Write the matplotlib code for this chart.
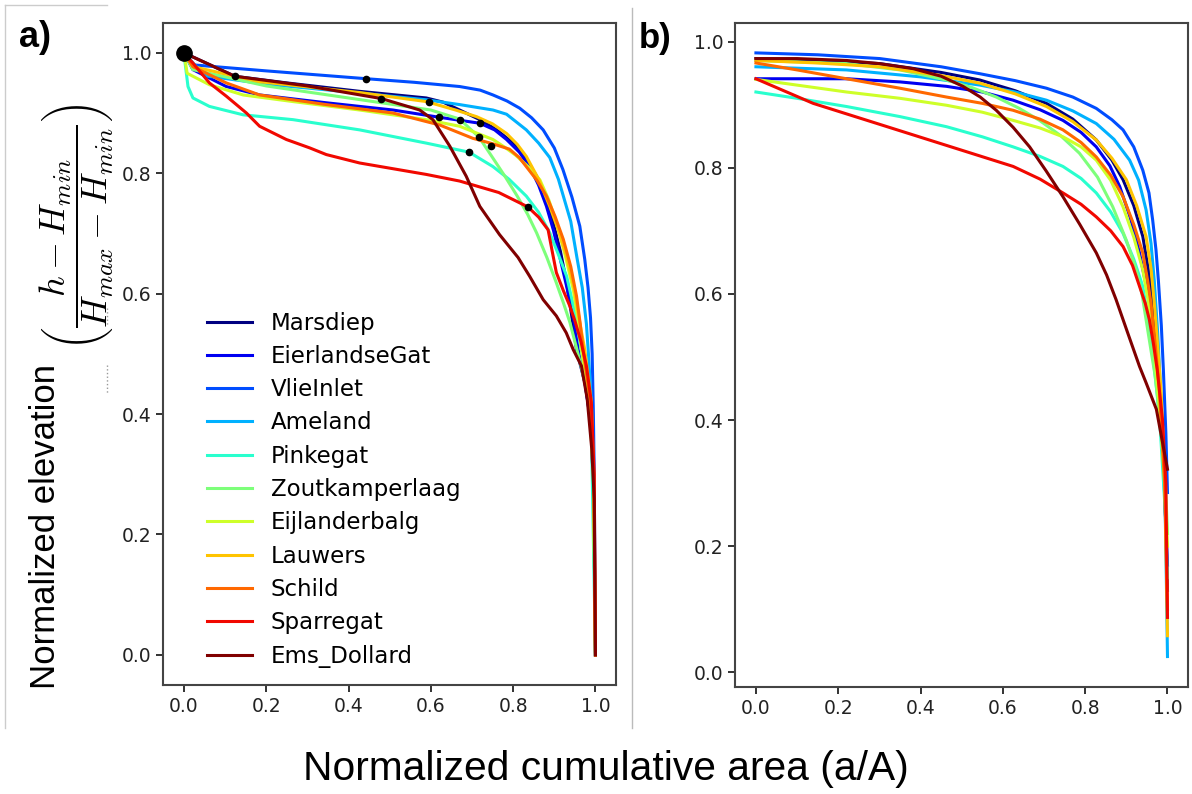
import matplotlib.pyplot as plt
import numpy as np
from matplotlib.lines import Line2D

plt.rcParams['mathtext.fontset'] = 'cm'

names = ['Marsdiep', 'EierlandseGat', 'VlieInlet', 'Ameland', 'Pinkegat',
         'Zoutkamperlaag', 'Eijlanderbalg', 'Lauwers', 'Schild', 'Sparregat',
         'Ems_Dollard']
colors = plt.cm.jet(np.linspace(0, 1, len(names)))

# panel a: measured hypsometric curves
marsdiep_a_x = [0, 0.124, 0.25, 0.427, 0.589, 0.63, 0.670, 0.719, 0.76, 0.800, 0.83, 0.857, 0.878, 0.897, 0.915, 0.930, 0.943, 0.954, 0.975, 0.99, 0.996, 1.0]
marsdiep_a_y = [1.0, 0.961, 0.950, 0.936, 0.925, 0.918, 0.905, 0.889, 0.872, 0.850, 0.825, 0.795, 0.76, 0.718, 0.67, 0.618, 0.56, 0.507, 0.45, 0.38, 0.25, 0.0]
eierland_a_x = [0, 0.022, 0.103, 0.184, 0.346, 0.508, 0.620, 0.719, 0.755, 0.784, 0.815, 0.840, 0.862, 0.881, 0.898, 0.913, 0.93, 0.946, 0.958, 0.975, 0.99, 0.996, 1.0]
eierland_a_y = [1.0, 0.972, 0.944, 0.930, 0.917, 0.905, 0.893, 0.883, 0.872, 0.856, 0.835, 0.811, 0.78, 0.745, 0.705, 0.662, 0.612, 0.563, 0.507, 0.45, 0.38, 0.25, 0.0]
vlie_a_x = [0, 0.022, 0.2, 0.443, 0.56, 0.670, 0.72, 0.751, 0.785, 0.816, 0.845, 0.873, 0.9, 0.921, 0.943, 0.962, 0.974, 0.982, 0.988, 0.992, 0.995, 0.997, 1.0]
vlie_a_y = [1.0, 0.980, 0.970, 0.957, 0.951, 0.944, 0.938, 0.930, 0.92, 0.908, 0.892, 0.872, 0.842, 0.806, 0.76, 0.712, 0.657, 0.61, 0.56, 0.5, 0.4, 0.3, 0.0]
ameland_a_x = [0, 0.05, 0.2, 0.4, 0.589, 0.670, 0.751, 0.784, 0.832, 0.862, 0.889, 0.91, 0.925, 0.94, 0.955, 0.968, 0.978, 0.983, 0.99, 0.995, 1.0]
ameland_a_y = [1.0, 0.962, 0.948, 0.935, 0.922, 0.914, 0.905, 0.898, 0.872, 0.85, 0.826, 0.79, 0.755, 0.72, 0.66, 0.61, 0.55, 0.5, 0.42, 0.3, 0.0]
pinke_a_x = [0, 0.004, 0.010, 0.022, 0.062, 0.144, 0.265, 0.427, 0.589, 0.693, 0.751, 0.79, 0.832, 0.862, 0.889, 0.91, 0.930, 0.943, 0.954, 0.975, 0.99, 1.0]
pinke_a_y = [1.0, 0.977, 0.944, 0.925, 0.911, 0.897, 0.889, 0.872, 0.850, 0.835, 0.811, 0.79, 0.762, 0.735, 0.701, 0.665, 0.629, 0.59, 0.552, 0.47, 0.38, 0.0]
zout_a_x = [0, 0.022, 0.2, 0.4, 0.6, 0.67, 0.717, 0.751, 0.78, 0.81, 0.835, 0.857, 0.882, 0.905, 0.922, 0.938, 0.952, 0.965, 0.985, 0.995, 1.0]
zout_a_y = [1.0, 0.972, 0.945, 0.925, 0.905, 0.89, 0.860, 0.825, 0.795, 0.762, 0.732, 0.701, 0.66, 0.618, 0.585, 0.552, 0.515, 0.48, 0.42, 0.3, 0.0]
eijl_a_x = [0, 0.008, 0.062, 0.144, 0.265, 0.427, 0.589, 0.670, 0.751, 0.78, 0.806, 0.838, 0.865, 0.887, 0.905, 0.926, 0.946, 0.957, 0.966, 0.985, 0.995, 1.0]
eijl_a_y = [1.0, 0.966, 0.947, 0.930, 0.919, 0.905, 0.889, 0.878, 0.856, 0.843, 0.830, 0.81, 0.789, 0.755, 0.718, 0.665, 0.607, 0.56, 0.507, 0.42, 0.3, 0.0]
lauw_a_x = [0, 0.022, 0.184, 0.427, 0.589, 0.66, 0.711, 0.75, 0.784, 0.81, 0.832, 0.862, 0.889, 0.91, 0.930, 0.948, 0.962, 0.974, 0.99, 0.996, 1.0]
lauw_a_y = [1.0, 0.977, 0.952, 0.934, 0.919, 0.905, 0.894, 0.882, 0.866, 0.848, 0.828, 0.79, 0.745, 0.705, 0.662, 0.61, 0.552, 0.507, 0.42, 0.3, 0.0]
schild_a_x = [0, 0.022, 0.103, 0.184, 0.346, 0.508, 0.622, 0.702, 0.75, 0.791, 0.815, 0.832, 0.858, 0.881, 0.902, 0.922, 0.94, 0.954, 0.963, 0.970, 0.988, 0.996, 1.0]
schild_a_y = [1.0, 0.977, 0.950, 0.930, 0.914, 0.900, 0.880, 0.858, 0.849, 0.840, 0.826, 0.811, 0.788, 0.762, 0.728, 0.690, 0.645, 0.596, 0.55, 0.507, 0.42, 0.3, 0.0]
sparre_a_x = [0, 0.022, 0.062, 0.103, 0.152, 0.184, 0.249, 0.306, 0.346, 0.427, 0.589, 0.670, 0.765, 0.836, 0.862, 0.885, 0.895, 0.905, 0.922, 0.938, 0.95, 0.965, 0.978, 0.99, 0.997, 1.0]
sparre_a_y = [1.0, 0.983, 0.950, 0.928, 0.900, 0.878, 0.856, 0.842, 0.831, 0.817, 0.798, 0.787, 0.768, 0.744, 0.727, 0.706, 0.67, 0.635, 0.605, 0.579, 0.555, 0.52, 0.48, 0.42, 0.3, 0.0]
ems_a_x = [0, 0.124, 0.3, 0.480, 0.573, 0.605, 0.646, 0.686, 0.719, 0.767, 0.812, 0.840, 0.873, 0.905, 0.929, 0.946, 0.966, 0.980, 0.991, 0.997, 1.0]
ems_a_y = [1.0, 0.961, 0.945, 0.924, 0.905, 0.889, 0.845, 0.795, 0.745, 0.698, 0.66, 0.629, 0.59, 0.563, 0.535, 0.507, 0.48, 0.425, 0.342, 0.259, 0.0]

dots_x = [0.124, 0.443, 0.480, 0.596, 0.620, 0.672, 0.720, 0.717, 0.747, 0.693, 0.836]
dots_y = [0.961, 0.957, 0.924, 0.919, 0.893, 0.889, 0.884, 0.860, 0.845, 0.835, 0.744]

# panel b: fitted curves
marsdiep_b_x = [0, 0.15, 0.301, 0.45, 0.544, 0.63, 0.706, 0.77, 0.827, 0.865, 0.892, 0.918, 0.940, 0.953, 0.964, 0.974, 0.982, 0.993, 1.0]
marsdiep_b_y = [0.973, 0.97, 0.965, 0.951, 0.939, 0.922, 0.902, 0.877, 0.844, 0.812, 0.781, 0.74, 0.691, 0.64, 0.585, 0.51, 0.45, 0.3, 0.13]
eierland_b_x = [0, 0.22, 0.35, 0.463, 0.55, 0.625, 0.69, 0.746, 0.79, 0.827, 0.86, 0.884, 0.91, 0.932, 0.946, 0.956, 0.967, 0.977, 0.99, 1.0]
eierland_b_y = [0.941, 0.941, 0.936, 0.929, 0.92, 0.907, 0.892, 0.875, 0.856, 0.833, 0.803, 0.770, 0.72, 0.665, 0.62, 0.585, 0.52, 0.45, 0.33, 0.17]
vlie_b_x = [0, 0.15, 0.301, 0.45, 0.544, 0.63, 0.706, 0.77, 0.827, 0.865, 0.892, 0.918, 0.940, 0.955, 0.964, 0.972, 0.978, 0.985, 0.990, 0.996, 1.0]
vlie_b_y = [0.982, 0.979, 0.973, 0.96, 0.949, 0.938, 0.926, 0.912, 0.894, 0.876, 0.860, 0.833, 0.796, 0.76, 0.717, 0.67, 0.62, 0.55, 0.48, 0.38, 0.285]
ameland_b_x = [0, 0.22, 0.4, 0.544, 0.63, 0.706, 0.77, 0.827, 0.87, 0.908, 0.93, 0.948, 0.96, 0.968, 0.976, 0.983, 0.993, 0.996, 1.0]
ameland_b_y = [0.960, 0.955, 0.944, 0.931, 0.920, 0.907, 0.89, 0.870, 0.845, 0.812, 0.78, 0.733, 0.68, 0.62, 0.54, 0.45, 0.3, 0.2, 0.025]
pinke_b_x = [0, 0.1, 0.22, 0.35, 0.463, 0.55, 0.625, 0.69, 0.746, 0.79, 0.827, 0.862, 0.892, 0.918, 0.940, 0.953, 0.965, 0.975, 0.983, 0.995, 1.0]
pinke_b_y = [0.920, 0.91, 0.897, 0.881, 0.865, 0.849, 0.833, 0.818, 0.802, 0.783, 0.760, 0.73, 0.696, 0.655, 0.612, 0.56, 0.5, 0.44, 0.38, 0.25, 0.15]
zout_b_x = [0, 0.22, 0.35, 0.463, 0.525, 0.584, 0.64, 0.689, 0.74, 0.786, 0.83, 0.867, 0.90, 0.924, 0.938, 0.948, 0.960, 0.970, 0.981, 0.995, 1.0]
zout_b_y = [0.970, 0.965, 0.955, 0.939, 0.927, 0.912, 0.894, 0.875, 0.851, 0.823, 0.785, 0.738, 0.685, 0.638, 0.6, 0.559, 0.51, 0.47, 0.406, 0.3, 0.22]
eijl_b_x = [0, 0.22, 0.35, 0.463, 0.55, 0.625, 0.69, 0.746, 0.79, 0.827, 0.862, 0.892, 0.918, 0.940, 0.953, 0.965, 0.975, 0.983, 0.995, 1.0]
eijl_b_y = [0.940, 0.920, 0.91, 0.899, 0.888, 0.875, 0.863, 0.849, 0.833, 0.812, 0.78, 0.738, 0.69, 0.638, 0.59, 0.53, 0.46, 0.4, 0.28, 0.2]
lauw_b_x = [0, 0.15, 0.301, 0.45, 0.544, 0.63, 0.706, 0.77, 0.827, 0.865, 0.900, 0.925, 0.948, 0.96, 0.968, 0.977, 0.984, 0.994, 1.0]
lauw_b_y = [0.970, 0.966, 0.960, 0.946, 0.934, 0.917, 0.897, 0.873, 0.844, 0.815, 0.781, 0.74, 0.691, 0.64, 0.585, 0.51, 0.45, 0.3, 0.058]
schild_b_x = [0, 0.1, 0.22, 0.35, 0.463, 0.55, 0.625, 0.69, 0.746, 0.79, 0.827, 0.862, 0.892, 0.918, 0.940, 0.952, 0.960, 0.970, 0.980, 0.993, 1.0]
schild_b_y = [0.966, 0.955, 0.941, 0.926, 0.912, 0.902, 0.891, 0.877, 0.860, 0.84, 0.817, 0.788, 0.754, 0.71, 0.665, 0.62, 0.585, 0.52, 0.45, 0.3, 0.1]
sparre_b_x = [0, 0.139, 0.382, 0.625, 0.69, 0.746, 0.79, 0.827, 0.862, 0.892, 0.915, 0.932, 0.946, 0.956, 0.966, 0.975, 0.988, 0.996, 1.0]
sparre_b_y = [0.941, 0.902, 0.852, 0.802, 0.782, 0.760, 0.742, 0.722, 0.70, 0.675, 0.645, 0.612, 0.585, 0.559, 0.52, 0.48, 0.4, 0.3, 0.087]
ems_b_x = [0, 0.1, 0.220, 0.3, 0.382, 0.45, 0.503, 0.545, 0.584, 0.625, 0.665, 0.705, 0.746, 0.787, 0.827, 0.852, 0.875, 0.905, 0.932, 0.948, 0.973, 1.0]
ems_b_y = [0.973, 0.973, 0.970, 0.965, 0.957, 0.945, 0.929, 0.912, 0.891, 0.864, 0.833, 0.795, 0.754, 0.71, 0.665, 0.63, 0.591, 0.535, 0.485, 0.459, 0.417, 0.322]

curves_a = [(marsdiep_a_x, marsdiep_a_y), (eierland_a_x, eierland_a_y), (vlie_a_x, vlie_a_y),
            (ameland_a_x, ameland_a_y), (pinke_a_x, pinke_a_y), (zout_a_x, zout_a_y),
            (eijl_a_x, eijl_a_y), (lauw_a_x, lauw_a_y), (schild_a_x, schild_a_y),
            (sparre_a_x, sparre_a_y), (ems_a_x, ems_a_y)]
curves_b = [(marsdiep_b_x, marsdiep_b_y), (eierland_b_x, eierland_b_y), (vlie_b_x, vlie_b_y),
            (ameland_b_x, ameland_b_y), (pinke_b_x, pinke_b_y), (zout_b_x, zout_b_y),
            (eijl_b_x, eijl_b_y), (lauw_b_x, lauw_b_y), (schild_b_x, schild_b_y),
            (sparre_b_x, sparre_b_y), (ems_b_x, ems_b_y)]

fig = plt.figure(figsize=(11.92, 7.94), dpi=100)
ax1 = fig.add_axes([0.137, 0.1373, 0.3798, 0.8341])
ax2 = fig.add_axes([0.6169, 0.1351, 0.3798, 0.8363])

for i, (x, y) in enumerate(curves_a):
    ax1.plot(x, y, color=colors[i], lw=2.2, label=names[i], solid_joinstyle='round')
ax1.plot(dots_x, dots_y, 'o', color='black', ms=4.5, zorder=5)
ax1.plot([0], [1], 'o', color='black', ms=11, zorder=6)

for i, (x, y) in enumerate(curves_b):
    ax2.plot(x, y, color=colors[i], lw=2.2, solid_joinstyle='round')

ax1.legend(loc='lower left', bbox_to_anchor=(0.05, -0.005), frameon=False, fontsize=16.5,
           handlelength=2.0, labelspacing=0.45)

for ax in (ax1, ax2):
    ax.set_xticks([0, 0.2, 0.4, 0.6, 0.8, 1.0])
    ax.set_yticks([0, 0.2, 0.4, 0.6, 0.8, 1.0])
    ax.tick_params(labelsize=13.5, colors='#222222', length=5, width=1.3)
    for s in ax.spines.values():
        s.set_color('#444444')
        s.set_linewidth(1.5)

fig.text(0.016, 0.975, 'a)', fontsize=26, fontweight='bold', family='Liberation Sans', va='top')
fig.text(0.536, 0.972, 'b)', fontsize=25, fontweight='bold', family='Liberation Sans', va='top')
fig.text(0.508, 0.0176, 'Normalized cumulative area (a/A)', fontsize=29.3, family='Liberation Sans',
         ha='center', va='baseline')
# y label: plain words plus a separate fraction
fig.text(0.038, 0.337, 'Normalized elevation', fontsize=25, family='Liberation Sans',
         rotation=90, ha='center', va='center')
fig.text(0.064, 0.714, r'$\left(\dfrac{h-H_{min}}{H_{max}-H_{min}}\right)$', fontsize=26,
         rotation=90, ha='center', va='center')

# frame lines of the composite image
fig.add_artist(Line2D([632 / 1192, 632 / 1192], [1 - 8 / 794, 1 - 728 / 794], color='#bbbbbb', lw=1))
fig.add_artist(Line2D([5 / 1192, 5 / 1192], [1 - 5 / 794, 1 - 728 / 794], color='#cccccc', lw=1))
fig.add_artist(Line2D([5 / 1192, 107 / 1192], [1 - 5 / 794, 1 - 5 / 794], color='#cccccc', lw=1))
fig.add_artist(Line2D([107 / 1192, 107 / 1192], [1 - 308 / 794, 1 - 325 / 794], color='#999999', lw=1, ls=':'))
fig.add_artist(Line2D([107 / 1192, 107 / 1192], [1 - 365 / 794, 1 - 393 / 794], color='#999999', lw=1, ls=':'))

fig.savefig('out.png', dpi=100)
